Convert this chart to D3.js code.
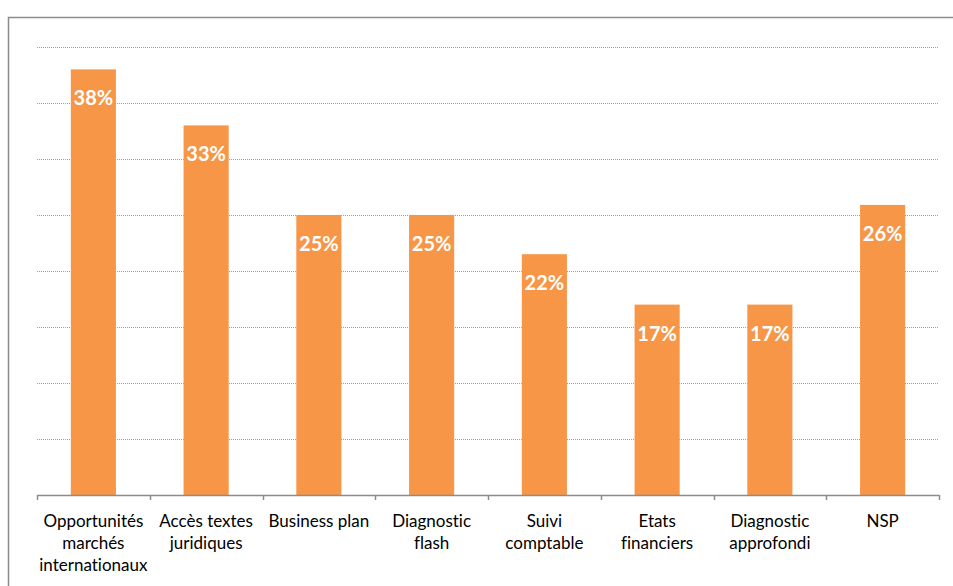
<!DOCTYPE html>
<html>
<head>
<meta charset="utf-8">
<script src="https://cdn.jsdelivr.net/npm/d3@7"></script>
<style>
  body { margin: 0; background: #fff; }
  svg { display: block; font-family: Lato, "Open Sans", sans-serif; font-variant-ligatures: none; }
</style>
</head>
<body>
<svg width="953" height="586"></svg>
<script>
var categories = [
	["Opportunités", "marchés", "internationaux"],
	["Accès textes", "juridiques"],
	["Business plan"],
	["Diagnostic", "flash"],
	["Suivi", "comptable"],
	["Etats", "financiers"],
	["Diagnostic", "approfondi"],
	["NSP"]
];
var values = [38, 33, 25, 25, 21.5, 17, 17, 25.9];
var yTicks = [0, 5, 10, 15, 20, 25, 30, 35, 40];

var svg = d3.select("svg");

// frame around the chart
svg.append("rect")
	.attr("x", 8.5).attr("y", 17.5)
	.attr("width", 960).attr("height", 600)
	.style("fill", "none")
	.style("stroke", "#8c8c8c")
	.style("stroke-width", 1.5);

var m = { left: 37, right: 939, top: 47, bottom: 495 };

var x = d3.scaleBand()
	.domain(d3.range(values.length))
	.range([m.left, m.right]);

var y = d3.scaleLinear().domain([0, 40]).range([m.bottom, m.top]);

// dotted gridlines
svg.append("g")
	.selectAll("line")
	.data(yTicks.filter(d => d > 0))
	.enter()
	.append("line")
	.attr("x1", m.left).attr("x2", m.right)
	.attr("y1", d => Math.round(y(d)) + 0.5)
	.attr("y2", d => Math.round(y(d)) + 0.5)
	.style("stroke", "#a0a0a0")
	.style("stroke-dasharray", "1,1");

var barW = x.bandwidth() * 0.4;

svg.append("g")
	.selectAll("rect")
	.data(values)
	.enter()
	.append("rect")
	.attr("x", (d, i) => x(i) + (x.bandwidth() - barW) / 2)
	.attr("y", d => y(d))
	.attr("width", barW)
	.attr("height", d => m.bottom - y(d))
	.style("fill", "#F79646");

svg.append("g")
	.selectAll("text")
	.data(values)
	.enter()
	.append("text")
	.attr("x", (d, i) => x(i) + x.bandwidth() / 2)
	.attr("y", d => y(d) + 36)
	.attr("text-anchor", "middle")
	.style("fill", "#fff")
	.style("font-weight", "bold")
	.style("font-size", "20px")
	.text(d => Math.round(d) + "%");

// x axis with ticks between categories
var xAxisGroup = svg.append("g");
xAxisGroup.append("line")
	.attr("x1", m.left).attr("x2", m.right)
	.attr("y1", m.bottom + 0.5).attr("y2", m.bottom + 0.5)
	.style("stroke", "#8c8c8c")
	.style("stroke-width", 1.5);

xAxisGroup.selectAll("line.tick")
	.data(d3.range(values.length + 1))
	.enter()
	.append("line")
	.attr("class", "tick")
	.attr("x1", d => Math.round(m.left + d * x.step()) + 0.5)
	.attr("x2", d => Math.round(m.left + d * x.step()) + 0.5)
	.attr("y1", m.bottom).attr("y2", m.bottom + 5)
	.style("stroke", "#8c8c8c")
	.style("stroke-width", 1.5);

var labels = xAxisGroup.selectAll("text")
	.data(categories)
	.enter()
	.append("text")
	.attr("text-anchor", "middle")
	.attr("x", (d, i) => x(i) + x.bandwidth() / 2)
	.attr("y", 527)
	.style("fill", "#000")
	.style("font-size", "17px");

labels.selectAll("tspan")
	.data(d => d)
	.enter()
	.append("tspan")
	.attr("x", function () { return d3.select(this.parentNode).attr("x"); })
	.attr("dy", (d, i) => i === 0 ? 0 : 22)
	.text(d => d);
</script>
</body>
</html>
